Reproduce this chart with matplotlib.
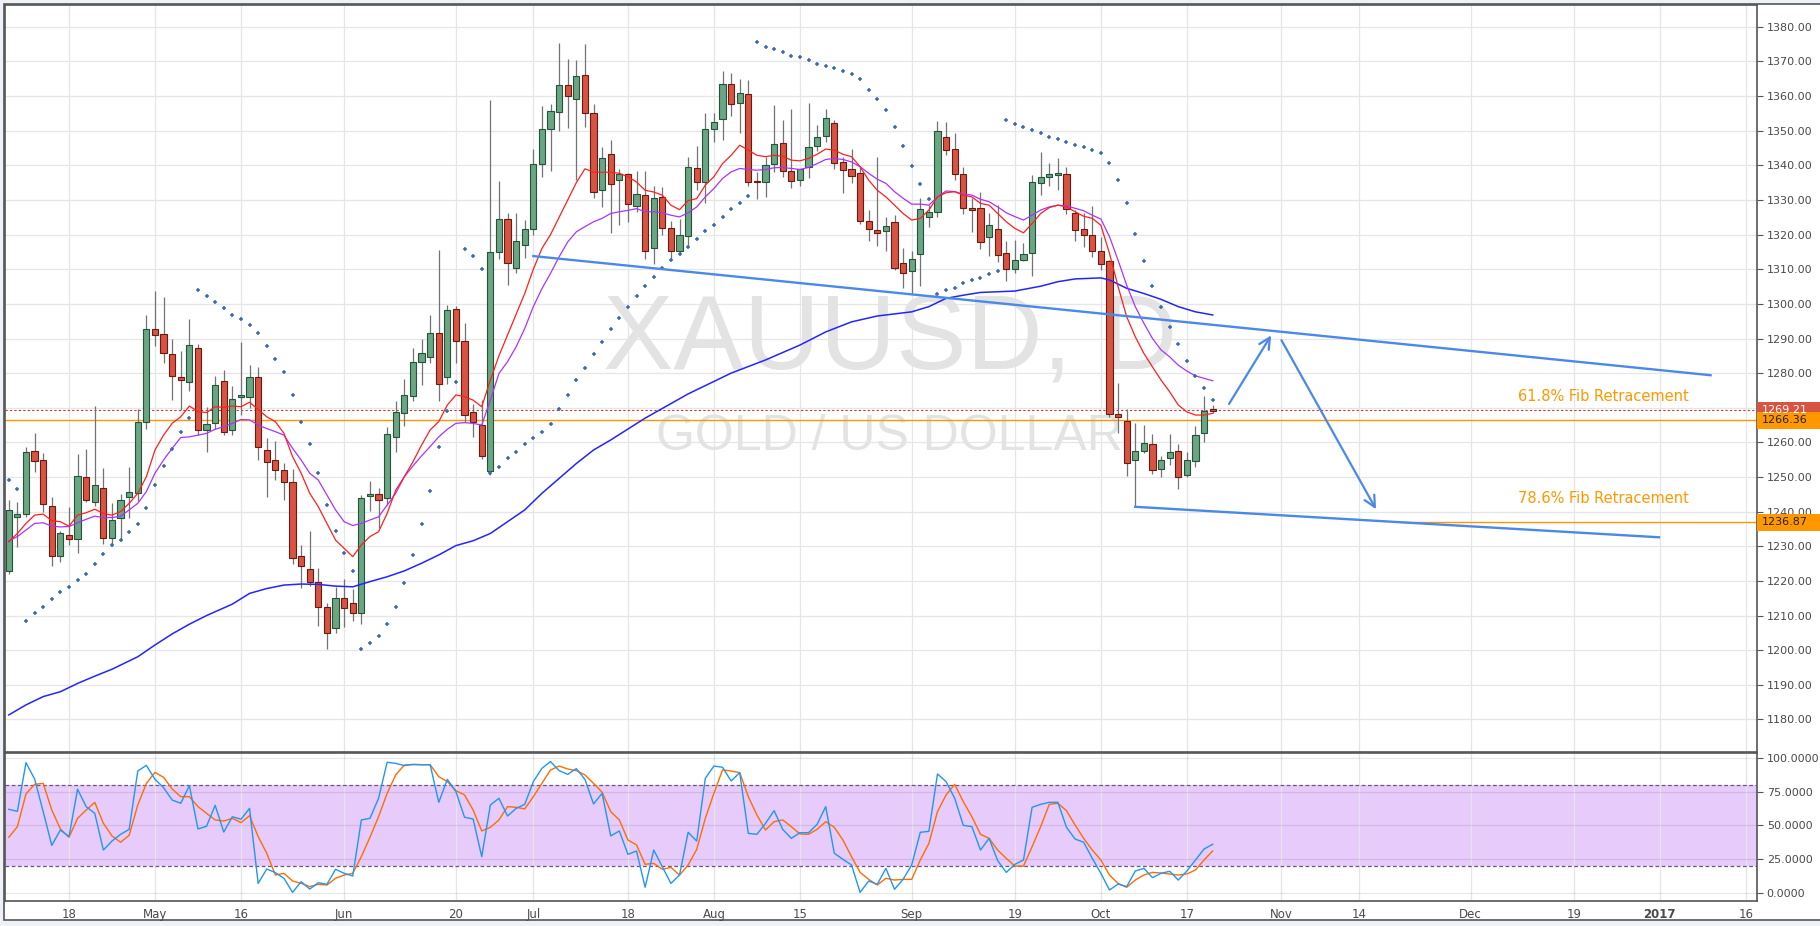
import numpy as np
import pandas as pd
import matplotlib
matplotlib.use("Agg")
import matplotlib.pyplot as plt
import matplotlib.transforms as mtransforms
from matplotlib.patches import Rectangle

# XAUUSD daily, 7 Apr 2016 - 20 Oct 2016
opens = [1222.8, 1238.6, 1239.2, 1257.4, 1254.8, 1241.5, 1227.1,
         1233.4, 1232.0, 1249.9, 1242.7, 1246.7, 1232.3, 1238.3, 1244.1, 1245.3, 1265.8,
         1292.6, 1291.2, 1285.4, 1279.0, 1277.3, 1287.4, 1263.7, 1265.5, 1277.7, 1263.5,
         1273.1, 1273.2, 1278.8, 1257.7, 1254.8, 1251.9, 1248.7, 1227.1, 1223.3, 1219.6,
         1212.6, 1206.3, 1215.2, 1213.5, 1210.6, 1244.4, 1245.0, 1243.8, 1261.7, 1268.6,
         1273.5, 1283.1, 1284.8, 1291.7, 1279.0, 1298.4, 1289.2, 1268.7, 1264.9, 1251.7,
         1315.0, 1324.4, 1310.4, 1317.1, 1321.5, 1340.5, 1350.6, 1355.3, 1363.1, 1359.3,
         1366.2, 1355.0, 1333.0, 1343.4, 1335.9, 1337.4, 1328.4, 1331.3, 1316.0, 1331.0,
         1322.0, 1315.4, 1319.5, 1339.1, 1335.3, 1350.6, 1353.3, 1363.4, 1357.9, 1360.5,
         1335.4, 1335.3, 1340.3, 1346.5, 1338.4, 1335.7, 1339.5, 1345.6, 1348.4, 1352.1,
         1341.1, 1338.8, 1337.9, 1323.9, 1321.3, 1320.9, 1323.5, 1311.7, 1309.5, 1314.3,
         1325.0, 1326.6, 1348.3, 1344.6, 1337.4, 1327.8, 1327.8, 1319.2, 1321.5, 1314.6,
         1310.0, 1312.8, 1314.6, 1334.8, 1336.5, 1337.3, 1337.4, 1326.3, 1321.5, 1320.0,
         1315.4, 1312.3, 1268.2, 1266.1, 1254.9, 1257.4, 1259.4, 1252.3, 1255.6, 1257.6,
         1250.6, 1254.6, 1262.6, 1269.4]
highs = [1243.4, 1242.9, 1258.8, 1262.7, 1256.9, 1244.1, 1234.5,
         1241.4, 1256.6, 1258.1, 1270.5, 1252.6, 1242.4, 1245.1, 1252.8, 1269.5, 1296.7,
         1303.7, 1302.0, 1289.8, 1286.4, 1295.6, 1288.4, 1270.1, 1279.1, 1280.9, 1276.2,
         1289.0, 1282.3, 1281.8, 1261.2, 1260.4, 1254.1, 1252.2, 1230.4, 1234.4, 1223.6,
         1213.7, 1218.3, 1220.5, 1217.6, 1244.7, 1248.8, 1246.7, 1264.5, 1271.9, 1278.3,
         1287.2, 1289.8, 1296.7, 1315.5, 1299.6, 1299.5, 1294.5, 1271.0, 1272.2, 1358.8,
         1335.4, 1326.1, 1326.1, 1324.2, 1344.7, 1357.0, 1357.6, 1375.3, 1370.7, 1370.4,
         1375.0, 1357.6, 1345.3, 1347.2, 1338.8, 1337.7, 1338.3, 1338.3, 1334.1, 1333.8,
         1323.9, 1324.5, 1342.5, 1345.6, 1355.2, 1355.0, 1367.2, 1366.6, 1364.8, 1364.6,
         1338.1, 1342.5, 1357.4, 1353.2, 1356.4, 1339.0, 1357.9, 1351.6, 1356.2, 1353.1,
         1342.5, 1344.7, 1339.6, 1327.0, 1342.5, 1325.2, 1325.6, 1316.0, 1315.2, 1330.5,
         1328.5, 1352.8, 1352.5, 1349.2, 1339.4, 1330.5, 1332.3, 1326.1, 1328.5, 1318.1,
         1318.4, 1317.7, 1337.2, 1343.8, 1340.7, 1342.0, 1339.4, 1327.1, 1326.1, 1328.2,
         1319.4, 1312.6, 1277.2, 1269.5, 1265.7, 1265.0, 1262.3, 1256.0, 1262.4, 1259.5,
         1257.3, 1264.7, 1273.4, 1270.8]
lows = [1222.0, 1229.9, 1238.5, 1251.5, 1240.0, 1224.4, 1225.5,
        1230.5, 1228.1, 1242.9, 1241.5, 1230.8, 1230.1, 1231.5, 1238.3, 1243.0, 1264.0,
        1287.9, 1282.8, 1272.3, 1269.3, 1274.9, 1262.0, 1257.3, 1264.0, 1262.1, 1262.0,
        1268.0, 1269.8, 1255.0, 1244.1, 1249.1, 1243.5, 1225.0, 1218.1, 1218.5, 1207.1,
        1200.3, 1205.0, 1206.6, 1208.5, 1207.5, 1240.3, 1235.2, 1242.0, 1257.3, 1264.8,
        1272.0, 1276.5, 1283.0, 1272.0, 1277.0, 1283.0, 1266.0, 1261.6, 1255.1, 1250.5,
        1313.0, 1305.4, 1309.0, 1313.3, 1320.0, 1336.5, 1338.4, 1350.0, 1350.8, 1335.7,
        1351.1, 1330.6, 1328.1, 1320.6, 1322.7, 1323.7, 1326.6, 1312.9, 1311.4, 1320.0,
        1312.6, 1314.0, 1316.5, 1332.9, 1329.0, 1346.8, 1347.4, 1354.2, 1349.4, 1334.0,
        1330.4, 1330.9, 1338.0, 1336.7, 1333.6, 1334.0, 1336.4, 1344.0, 1346.6, 1339.0,
        1332.0, 1335.0, 1323.0, 1318.2, 1316.7, 1315.3, 1309.8, 1304.7, 1302.8, 1305.2,
        1322.3, 1325.2, 1343.1, 1335.8, 1326.0, 1320.8, 1315.9, 1313.9, 1312.0, 1306.7,
        1309.0, 1312.5, 1308.1, 1331.4, 1334.1, 1333.0, 1326.0, 1318.2, 1316.5, 1313.6,
        1309.7, 1267.4, 1262.6, 1250.4, 1241.4, 1257.0, 1251.0, 1250.1, 1253.5, 1246.4,
        1250.0, 1253.0, 1260.2, 1268.6]
closes = [1240.4, 1239.2, 1257.1, 1254.5, 1242.1, 1227.1, 1233.7,
          1232.0, 1250.2, 1243.5, 1247.6, 1232.3, 1237.5, 1243.3, 1245.6, 1265.8, 1292.6,
          1290.9, 1285.7, 1279.3, 1277.9, 1288.0, 1263.5, 1265.2, 1276.7, 1262.9, 1272.4,
          1273.6, 1278.8, 1258.6, 1254.2, 1251.9, 1248.7, 1226.5, 1224.2, 1219.6, 1212.6,
          1205.1, 1215.0, 1212.1, 1210.6, 1243.8, 1245.0, 1243.3, 1262.3, 1268.9, 1273.6,
          1283.1, 1285.7, 1291.7, 1277.0, 1298.1, 1289.4, 1267.8, 1265.8, 1256.2, 1315.0,
          1324.4, 1311.9, 1318.1, 1321.5, 1340.5, 1350.6, 1355.8, 1363.3, 1359.9, 1365.7,
          1355.0, 1332.2, 1342.0, 1334.5, 1337.4, 1328.8, 1331.6, 1315.2, 1330.7, 1322.0,
          1315.2, 1320.0, 1339.4, 1335.1, 1350.6, 1352.4, 1363.4, 1357.6, 1361.0, 1335.3,
          1335.1, 1340.2, 1346.1, 1338.3, 1335.5, 1338.8, 1345.4, 1348.2, 1353.7, 1340.8,
          1338.6, 1337.0, 1323.9, 1321.5, 1320.6, 1322.6, 1310.5, 1308.8, 1313.1, 1327.3,
          1326.6, 1349.8, 1344.3, 1337.4, 1327.6, 1327.0, 1318.0, 1322.7, 1314.0, 1310.0,
          1312.8, 1314.3, 1335.1, 1336.5, 1337.4, 1337.5, 1327.4, 1321.2, 1320.0, 1315.4,
          1311.5, 1268.2, 1267.2, 1254.0, 1257.4, 1259.7, 1252.0, 1254.8, 1257.1, 1249.9,
          1254.8, 1262.0, 1269.0, 1269.2]

# fast (red) and slow (purple) moving averages, one value per candle
ma_fast = [1231.3, 1233.7, 1236.6, 1239.0, 1239.3, 1237.4, 1237.1,
           1235.8, 1239.0, 1239.7, 1240.7, 1239.5, 1239.0, 1240.0, 1242.4, 1245.3, 1250.1,
           1257.8, 1262.1, 1265.5, 1267.4, 1270.5, 1268.9, 1268.6, 1270.3, 1270.1, 1270.5,
           1270.3, 1271.6, 1269.5, 1267.4, 1266.0, 1262.6, 1255.9, 1251.1, 1245.3, 1241.4,
           1236.6, 1231.8, 1229.4, 1227.0, 1230.4, 1232.8, 1234.2, 1239.5, 1246.2, 1250.1,
           1254.4, 1259.2, 1263.6, 1266.0, 1270.8, 1273.7, 1273.2, 1272.2, 1270.3, 1278.0,
           1285.0, 1291.0, 1297.0, 1303.0, 1310.0, 1316.0, 1320.0, 1325.0, 1330.0, 1335.0,
           1339.0, 1338.0, 1338.0, 1338.0, 1337.7, 1336.7, 1335.2, 1332.8, 1332.3, 1331.4,
           1328.5, 1327.2, 1329.8, 1330.4, 1334.3, 1336.7, 1340.5, 1342.9, 1345.8, 1344.4,
           1342.9, 1342.5, 1342.9, 1342.6, 1341.5, 1341.3, 1342.0, 1343.2, 1344.7, 1344.4,
           1343.2, 1342.5, 1339.6, 1335.7, 1332.8, 1330.9, 1328.5, 1326.1, 1324.2, 1324.7,
           1327.1, 1330.9, 1332.1, 1332.4, 1331.4, 1330.9, 1329.0, 1328.5, 1326.1, 1323.7,
           1321.8, 1320.5, 1323.2, 1326.1, 1327.8, 1328.5, 1328.0, 1326.6, 1325.3, 1324.7,
           1322.7, 1314.6, 1305.0, 1296.3, 1290.5, 1285.7, 1281.8, 1278.0, 1274.6, 1270.8,
           1268.8, 1267.9, 1267.9, 1268.4]
ma_slow = [1231.6, 1232.8, 1234.7, 1236.6, 1236.8, 1235.8, 1235.6,
           1235.7, 1236.8, 1237.8, 1238.7, 1238.3, 1238.3, 1238.7, 1240.5, 1242.4, 1245.8,
           1251.1, 1254.9, 1258.3, 1261.4, 1261.6, 1262.1, 1262.6, 1263.8, 1264.5, 1265.5,
           1266.6, 1266.5, 1265.0, 1264.0, 1263.1, 1262.1, 1258.3, 1254.9, 1251.1, 1249.1,
           1244.8, 1240.5, 1237.1, 1236.0, 1236.6, 1237.6, 1238.5, 1241.9, 1245.3, 1250.1,
           1253.2, 1256.1, 1258.8, 1261.6, 1263.8, 1265.5, 1265.7, 1265.5, 1265.0, 1272.2,
           1279.9, 1283.3, 1287.6, 1292.9, 1299.2, 1304.4, 1308.8, 1313.6, 1317.9, 1320.8,
           1322.3, 1323.7, 1324.7, 1326.1, 1326.6, 1327.0, 1327.5, 1326.6, 1326.6, 1326.3,
           1325.6, 1325.1, 1326.3, 1328.0, 1330.9, 1333.3, 1336.2, 1338.1, 1339.1, 1338.8,
           1338.6, 1338.8, 1339.3, 1339.4, 1339.1, 1338.8, 1339.4, 1340.5, 1341.7, 1342.0,
           1341.7, 1341.0, 1339.6, 1337.7, 1336.0, 1334.8, 1332.4, 1330.5, 1328.8, 1328.8,
           1328.5, 1330.9, 1332.6, 1332.4, 1331.7, 1331.4, 1330.2, 1329.5, 1328.0, 1326.3,
           1325.2, 1324.2, 1325.6, 1327.1, 1328.0, 1328.5, 1328.3, 1327.6, 1326.9, 1325.6,
           1324.5, 1319.4, 1312.6, 1305.4, 1299.2, 1294.4, 1290.0, 1286.7, 1284.7, 1282.3,
           1280.6, 1279.2, 1278.5, 1277.8]

# long (blue) moving average, sampled: trading-day number from 7 Apr, value
ma_long_day = [0, 2, 4, 6, 8, 10, 12, 15, 17, 19, 21, 23, 26, 28, 30, 32, 34, 36, 38, 40,
               42, 44, 46, 48, 50, 52, 54, 56, 58, 60, 62, 64, 66, 68, 70, 74, 79, 84, 88,
               92, 95, 98, 101, 105, 107, 109, 111, 113, 115, 117, 120, 122, 124, 127, 128,
               130, 132, 134, 136, 138, 140]
ma_long = [1181.3, 1184.2, 1186.6, 1188.0, 1190.4, 1192.5, 1194.5, 1198.1, 1201.5, 1204.7,
           1207.5, 1210.0, 1213.3, 1216.4, 1217.8, 1218.8, 1219.1, 1219.0, 1218.5, 1218.3,
           1219.8, 1221.2, 1222.9, 1225.1, 1227.5, 1230.2, 1231.6, 1233.7, 1237.1, 1240.5,
           1245.3, 1249.6, 1253.9, 1257.8, 1260.7, 1267.0, 1274.0, 1280.0, 1283.8, 1288.1,
           1291.9, 1294.8, 1296.5, 1297.7, 1299.2, 1301.6, 1302.5, 1303.3, 1303.5, 1303.7,
           1305.1, 1306.4, 1307.2, 1307.5, 1306.9, 1304.5, 1303.0, 1301.3, 1299.2, 1297.7,
           1296.8]

# parabolic SAR, one dot per candle
sar = [1249.1, 1246.5,
       1208.3, 1210.6, 1212.6, 1214.7, 1216.7, 1218.3, 1220.2, 1221.9, 1224.8, 1227.8,
       1230.3, 1231.7, 1234.2, 1236.3, 1241.2, 1247.6, 1253.1, 1258.2, 1262.9, 1267.1,
       1304.0, 1302.2, 1300.4, 1298.7, 1296.9, 1295.5, 1293.8, 1291.5, 1287.7, 1284.2,
       1280.2, 1273.8, 1265.9, 1259.4, 1251.1, 1241.9, 1234.3, 1228.2, 1223.0,
       1200.2, 1202.0, 1204.0, 1207.5, 1212.6, 1219.3, 1227.4, 1236.3, 1245.9, 1258.6,
       1269.0, 1277.3,
       1315.8, 1313.8, 1310.2,
       1251.1, 1253.0, 1255.4, 1257.3, 1259.4, 1261.4, 1263.1, 1265.2, 1269.5, 1273.8,
       1278.0, 1281.6, 1285.5, 1289.0, 1292.6, 1295.8, 1299.0, 1302.2, 1305.1, 1307.9,
       1310.5, 1312.6, 1314.3, 1316.3, 1318.6, 1320.9, 1322.9, 1325.2, 1327.3, 1329.0, 1331.1,
       1375.5, 1374.3, 1373.5, 1372.6, 1371.7, 1371.2, 1370.3, 1369.4, 1368.6, 1368.0,
       1367.1, 1366.5, 1364.8, 1361.9, 1359.3, 1355.9, 1351.2, 1345.5, 1339.7, 1334.5, 1330.2,
       1302.8, 1303.9, 1304.7, 1305.9, 1306.8, 1307.6, 1308.6, 1309.5,
       1353.0, 1351.8, 1351.0, 1350.1, 1349.2, 1348.3, 1347.5, 1346.6, 1346.0, 1345.2,
       1344.3, 1343.7, 1340.6, 1335.9, 1329.0, 1320.3, 1312.5, 1305.3, 1299.0, 1293.2,
       1288.3, 1283.4, 1279.3, 1275.6, 1272.1]

# stochastic %K and %D
stoch_k = [62.0, 60.5, 96.7, 84.6, 60.3, 35.2, 46.6, 41.7, 76.9, 64.0,
           59.0, 31.7, 38.4, 43.4, 47.1, 90.5, 94.7, 84.3, 78.1, 68.9,
           66.5, 79.6, 47.4, 49.4, 65.0, 45.1, 56.5, 54.6, 62.7, 6.9,
           17.6, 14.9, 10.7, 0.2, 8.2, 2.7, 7.4, 6.2, 17.4, 14.4,
           12.4, 54.1, 55.3, 70.2, 97.0, 96.2, 94.5, 95.5,
           95.2, 95.2, 67.2, 84.3, 75.1, 56.1, 54.8, 26.8, 65.2, 70.2,
           57.0, 62.7, 65.7, 82.6, 92.5, 97.5, 90.8, 88.0, 92.3, 84.3,
           66.0, 73.9, 42.2, 45.9, 28.5, 31.0, 4.0, 31.7, 19.3, 6.9,
           13.1, 44.9, 38.4, 85.1, 94.2, 93.3, 83.1, 89.3, 44.1, 43.4,
           51.6, 61.0, 47.1, 40.4, 44.6, 44.6, 50.8, 64.0,
           29.3, 24.8, 20.6, 0.2, 8.7, 6.2, 18.1, 2.5, 9.9, 20.6,
           44.9, 45.6, 88.3, 82.6, 70.2, 50.1, 49.1, 31.7, 40.4, 23.8,
           15.1, 21.1, 24.3, 63.5, 65.7, 67.2, 67.2, 48.6, 39.9, 37.5,
           25.5, 14.4, 2.0, 6.4, 4.5, 16.1, 18.1, 11.2, 14.4, 15.9,
           9.4, 16.1, 24.3, 32.5, 36.0]
stoch_d = [41.2, 49.1, 73.4, 80.6, 81.3, 61.5, 47.4, 41.2, 55.3, 61.5,
           67.2, 51.6, 42.2, 37.5, 42.7, 65.2, 81.3, 89.5, 85.8, 77.1,
           71.4, 71.4, 64.0, 59.0, 54.1, 53.3, 55.3, 52.1, 57.3, 41.7,
           29.3, 13.1, 14.4, 8.7, 6.9, 4.5, 6.2, 5.7, 10.7, 13.1,
           14.4, 26.8, 41.2, 56.5, 73.9, 87.6, 95.0, 95.2,
           95.2, 95.2, 86.3, 82.6, 75.9, 72.7, 61.5, 45.9, 48.6, 54.1,
           64.0, 63.5, 62.3, 71.4, 81.3, 91.3, 94.2, 92.0, 90.8, 87.6,
           81.3, 74.7, 60.3, 54.1, 39.2, 35.5, 21.1, 21.8, 17.4, 18.8,
           13.1, 20.6, 32.2, 55.3, 73.9, 91.3, 90.5, 89.3, 71.4, 57.8,
           46.6, 52.8, 54.1, 49.1, 43.7, 43.4, 47.1, 52.8,
           48.6, 39.2, 26.8, 15.1, 9.9, 5.7, 10.7, 9.4, 9.9, 9.9,
           24.3, 36.7, 60.3, 72.7, 80.6, 67.7, 56.5, 43.4, 40.4, 31.7,
           25.5, 19.8, 19.8, 34.2, 49.1, 65.7, 66.5, 61.0, 50.3, 40.4,
           31.7, 24.3, 13.1, 6.9, 4.0, 9.4, 13.1, 15.1, 14.6, 13.9,
           13.1, 13.9, 16.9, 24.3, 31.0]

tick_dates = ['2016-04-18', '2016-05-02', '2016-05-16', '2016-06-01', '2016-06-20',
              '2016-07-01', '2016-07-18', '2016-08-01', '2016-08-15', '2016-09-01',
              '2016-09-19', '2016-10-03', '2016-10-17', '2016-11-01', '2016-11-14',
              '2016-12-01', '2016-12-19', '2017-01-02', '2017-01-16']
tick_labels = ['18', 'May', '16', 'Jun', '20', 'Jul', '18', 'Aug', '15', 'Sep',
               '19', 'Oct', '17', 'Nov', '14', 'Dec', '19', '2017', '16']

last_price = 1269.21
fib_618 = 1266.36
fib_786 = 1236.87

W, H = 1820, 926
fig = plt.figure(figsize=(W / 100, H / 100), dpi=100, facecolor='#eef1f5')
fig.patches.append(Rectangle((4 / W, 6 / H), 1.0, 916 / H, transform=fig.transFigure,
                             facecolor='white', edgecolor='#555555', lw=1.2, zorder=-5))

ax = fig.add_axes([5 / W, 174 / H, 1752 / W, 747 / H])
ax2 = fig.add_axes([5 / W, 25 / H, 1752 / W, 148 / H], sharex=ax)

days = pd.bdate_range('2016-04-07', '2017-01-31')
tick_pos = [days.get_loc(pd.Timestamp(d)) for d in tick_dates]

x = np.arange(len(closes))
o, hi, lo, c = (np.array(v) for v in (opens, highs, lows, closes))
up = c >= o

grid_c = '#e6e6e6'
for a in (ax, ax2):
    a.set_facecolor('white')
    for s in a.spines.values():
        s.set_color('#555555')
        s.set_linewidth(1.2)
    a.set_xticks(tick_pos)
    for t in tick_pos:
        a.axvline(t, color=grid_c, lw=0.9, zorder=0.2)

ax.set_xlim(-0.44, 203.3)
ax.set_ylim(1170.6, 1386.3)
for v in range(1180, 1390, 10):
    ax.axhline(v, color=grid_c, lw=0.9, zorder=0.2)

# watermark
ax.text(0.505, 0.549, 'XAUUSD, D', transform=ax.transAxes, ha='center', va='center',
        fontsize=76, color='#e3e3e3', family='Liberation Sans', zorder=0.3)
ax.text(0.505, 0.422, 'GOLD / US DOLLAR', transform=ax.transAxes, ha='center', va='center',
        fontsize=36, color='#e3e3e3', family='Liberation Sans', zorder=0.3)

# fib levels and last price
ax.axhline(fib_618, color='#ff9800', lw=1.0, zorder=1)
ax.axhline(last_price, color='#c0392b', lw=0.8, ls=(0, (2, 2)), zorder=1)
ax.plot([161.8, 203.3], [fib_786, fib_786], color='#ff9800', lw=1.0, zorder=1)

# candles
ax.vlines(x, lo, hi, color='#737375', lw=0.9, zorder=3)
body_lo = np.minimum(o, c)
body_h = np.maximum(np.abs(c - o), 0.35)
ax.bar(x[up], body_h[up], bottom=body_lo[up], width=0.72, color='#6ba583',
       edgecolor='#225437', lw=0.8, zorder=4)
ax.bar(x[~up], body_h[~up], bottom=body_lo[~up], width=0.72, color='#d75442',
       edgecolor='#6b1a12', lw=0.8, zorder=4)

# indicators
ax.plot(ma_long_day, ma_long, color='#2424ff', lw=1.1, zorder=5)
ax.plot(x, ma_slow, color='#aa33ff', lw=0.9, zorder=5)
ax.plot(x, ma_fast, color='#ff1f1f', lw=0.9, zorder=5)
ax.plot(x, sar, ls='none', marker='+', ms=3.5, mew=1.1, color='#3a6bb0', zorder=5)

# trend lines and arrows
tl = '#4a89e8'
ax.plot([61.0, 197.9], [1313.8, 1279.4], color=tl, lw=1.7, zorder=6)
ax.plot([131.0, 191.9], [1241.4, 1232.6], color=tl, lw=1.7, zorder=6)
ax.annotate('', xy=(146.8, 1290.9), xytext=(141.9, 1271.1),
            arrowprops=dict(arrowstyle='->', color=tl, lw=1.6, mutation_scale=20,
                            shrinkA=0, shrinkB=0), zorder=6)
ax.annotate('', xy=(159.0, 1240.7), xytext=(148.0, 1289.5),
            arrowprops=dict(arrowstyle='->', color=tl, lw=1.6, mutation_scale=20,
                            shrinkA=0, shrinkB=0), zorder=6)
ax.text(195.4, 1273.3, '61.8% Fib Retracement', ha='right', va='center',
        color='#ff9800', fontsize=10.5, zorder=6)
ax.text(195.4, 1243.7, '78.6% Fib Retracement', ha='right', va='center',
        color='#ff9800', fontsize=10.5, zorder=6)

# price axis
ax.yaxis.tick_right()
ax.set_yticks(range(1180, 1390, 10))
ax.set_yticklabels([f'{v:.2f}' for v in range(1180, 1390, 10)])
ax.tick_params(axis='y', direction='out', length=4, width=0.8, color='#555555',
               labelsize=8, labelcolor='#4a4a4a', pad=3)
ax.tick_params(axis='x', length=0, labelbottom=False)

blend = mtransforms.blended_transform_factory(ax.transAxes, ax.transData)
for price, face, txt in [(last_price, '#d75442', 'white'),
                         (fib_618, '#ff9800', '#222222'),
                         (fib_786, '#ff9800', '#222222')]:
    ax.add_patch(Rectangle((1.0, price - 2.35), 64 / 1752, 4.7, transform=blend,
                           facecolor=face, edgecolor='none', clip_on=False, zorder=10))
    ax.text(1.0 + 5 / 1752, price, f'{price:.2f}', transform=blend, ha='left',
            va='center', fontsize=8, color=txt, clip_on=False, zorder=11)

# stochastic panel
ax2.set_ylim(-6.2, 103.9)
ax2.axhspan(20, 80, color='#e6cbfb', lw=0, zorder=0.1)
for v in (0, 25, 50, 75, 100):
    ax2.axhline(v, color=(0, 0, 0, 0.09), lw=0.9, zorder=0.3)
for v in (20, 80):
    ax2.axhline(v, color='#6a587a', lw=0.9, ls=(0, (3, 2)), zorder=0.4)
ax2.plot(x, stoch_d, color='#ff6d00', lw=1.0, zorder=3)
ax2.plot(x, stoch_k, color='#2196f3', lw=1.0, zorder=3)
ax2.yaxis.tick_right()
ax2.set_yticks([0, 25, 50, 75, 100])
ax2.set_yticklabels([f'{v:.4f}' for v in (0, 25, 50, 75, 100)])
ax2.tick_params(axis='y', direction='out', length=4, width=0.8, color='#555555',
                labelsize=8, labelcolor='#4a4a4a', pad=3)
ax2.set_xticklabels(tick_labels)
ax2.tick_params(axis='x', length=0, labelsize=8.5, labelcolor='#4a4a4a', pad=5)
for lab in ax2.get_xticklabels():
    if lab.get_text() == '2017':
        lab.set_fontweight('bold')

fig.savefig('out.png', dpi=100, facecolor=fig.get_facecolor())
